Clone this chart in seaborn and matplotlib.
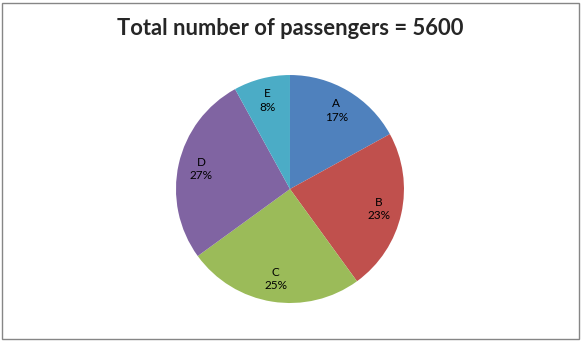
import matplotlib
matplotlib.use("Agg")
import matplotlib.pyplot as plt
import seaborn as sns
import numpy as np
from matplotlib.patches import Rectangle

categories = ["A", "B", "C", "D", "E"]
shares = [17, 23, 25, 27, 8]
colors = ["#4F81BD", "#C0504D", "#9BBB59", "#8064A2", "#4BACC6"]
title = "Total number of passengers = 5600"

sns.set_style("white")
plt.rcParams["font.family"] = ["Lato", "DejaVu Sans"]

fig = plt.figure(figsize=(5.81, 3.41), dpi=100)
ax = fig.add_axes([0.3029, 0.1114, 0.3924, 0.6686])
wedges, texts = ax.pie(shares, colors=sns.color_palette(colors), startangle=90,
                       counterclock=False, radius=1.0,
                       wedgeprops=dict(linewidth=0))
total = sum(shares)
ang = 90.0
for cat, v in zip(categories, shares):
    a = ang - v / total * 360 / 2
    ang -= v / total * 360
    r = 0.8
    ax.text(r * np.cos(np.radians(a)), r * np.sin(np.radians(a)), f"{cat}\n{v}%",
            ha="center", va="center", fontsize=8.5, color="black", linespacing=1.3)
ax.set_xlim(-1, 1)
ax.set_ylim(-1, 1)
ax.set_aspect("equal")
ax.axis("off")

fig.text(0.5, 0.915, title, ha="center", va="center", fontsize=15.8, fontweight="bold")
fig.patches.append(Rectangle((2.5 / 581, 2.5 / 341), 576 / 581, 336 / 341,
                             transform=fig.transFigure, fill=False,
                             edgecolor="#868686", linewidth=1.0))
fig.savefig("out.png", dpi=100)
